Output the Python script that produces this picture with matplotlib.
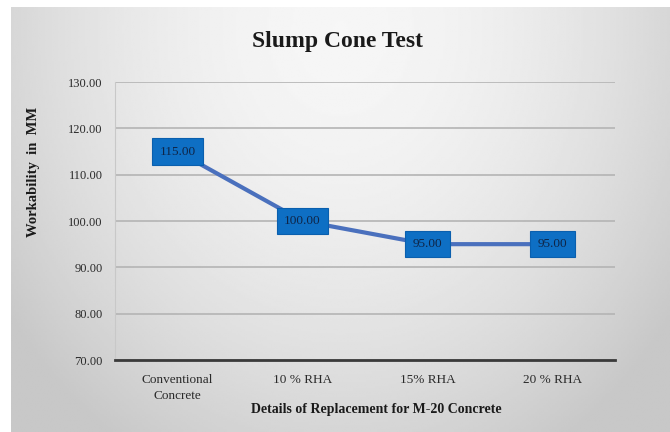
import numpy as np
import matplotlib.pyplot as plt

categories = ["Conventional\nConcrete", "10 % RHA", "15% RHA", "20 % RHA"]
slump_mm = [115.00, 100.00, 95.00, 95.00]
y_ticks = [70, 80, 90, 100, 110, 120, 130]

serif = ["Liberation Serif", "DejaVu Serif"]

fig = plt.figure(figsize=(6.7, 4.32), dpi=100)
fig.patch.set_facecolor("white")

# chart area background: grey edges fading to a light centre
bg = fig.add_axes([11 / 670, 0, 1 - 11 / 670, 1 - 7 / 432])
bg.set_axis_off()
yy, xx = np.mgrid[0:1:200j, 0:1:300j]
dist = np.sqrt(((xx - 0.5) / 0.62) ** 2 + ((yy - 0.05) / 1.15) ** 2)
shade = 0.965 - 0.18 * np.clip(dist, 0, 1) ** 1.8
bg.imshow(shade, cmap="gray", vmin=0, vmax=1, aspect="auto",
          extent=[0, 1, 1, 0], interpolation="bilinear")
bg.set_xlim(0, 1)
bg.set_ylim(1, 0)

ax = fig.add_axes([115 / 670, 1 - 360 / 432, 500 / 670, 278 / 432])
ax.patch.set_alpha(0)

x = np.arange(len(categories))
ax.plot(x, slump_mm, color="#4a70bd", lw=3, solid_capstyle="round", zorder=3)

for xi, v in zip(x, slump_mm):
    ax.annotate(f"{v:.2f}", (xi, v), ha="center", va="center",
                fontsize=9.5, family=serif, color="#0f2547", zorder=5,
                bbox=dict(boxstyle="square,pad=0.55", fc="#0e6fc4",
                          ec="#0a5fae", lw=0.8))

ax.set_xlim(-0.5, len(categories) - 0.5)
ax.set_ylim(70, 130)
ax.set_yticks(y_ticks)
ax.set_yticklabels([f"{t:.2f}" for t in y_ticks], family=serif,
                   fontsize=9, color="#2a2a2a")
ax.set_xticks(x)
ax.set_xticklabels(categories, family=serif, fontsize=9.5, color="#2a2a2a",
                   linespacing=1.5)
ax.tick_params(length=0, pad=9)
ax.tick_params(axis="x", pad=10)

ax.grid(axis="y", color="#b4b4b4", lw=1.2)
ax.set_axisbelow(True)
for side in ["top", "right"]:
    ax.spines[side].set_visible(False)
ax.spines["left"].set_color("#c8c8c8")
ax.spines["left"].set_linewidth(0.8)
ax.spines["bottom"].set_color("#3a3a3a")
ax.spines["bottom"].set_linewidth(2)

fig.text(338 / 670, 1 - 42 / 432, "Slump Cone Test", ha="center", va="center",
         family=serif, fontsize=17, fontweight="bold", color="#1a1a1a")
fig.text(33 / 670, 1 - 172 / 432, "Workability  in  MM", rotation=90,
         ha="center", va="center", family=serif, fontsize=10.5,
         fontweight="bold", color="#1a1a1a")
fig.text(376 / 670, 1 - 410 / 432, "Details of Replacement for M-20 Concrete",
         ha="center", va="center", family=serif, fontsize=10,
         fontweight="bold", color="#1a1a1a")

fig.savefig("out.png", dpi=100)
